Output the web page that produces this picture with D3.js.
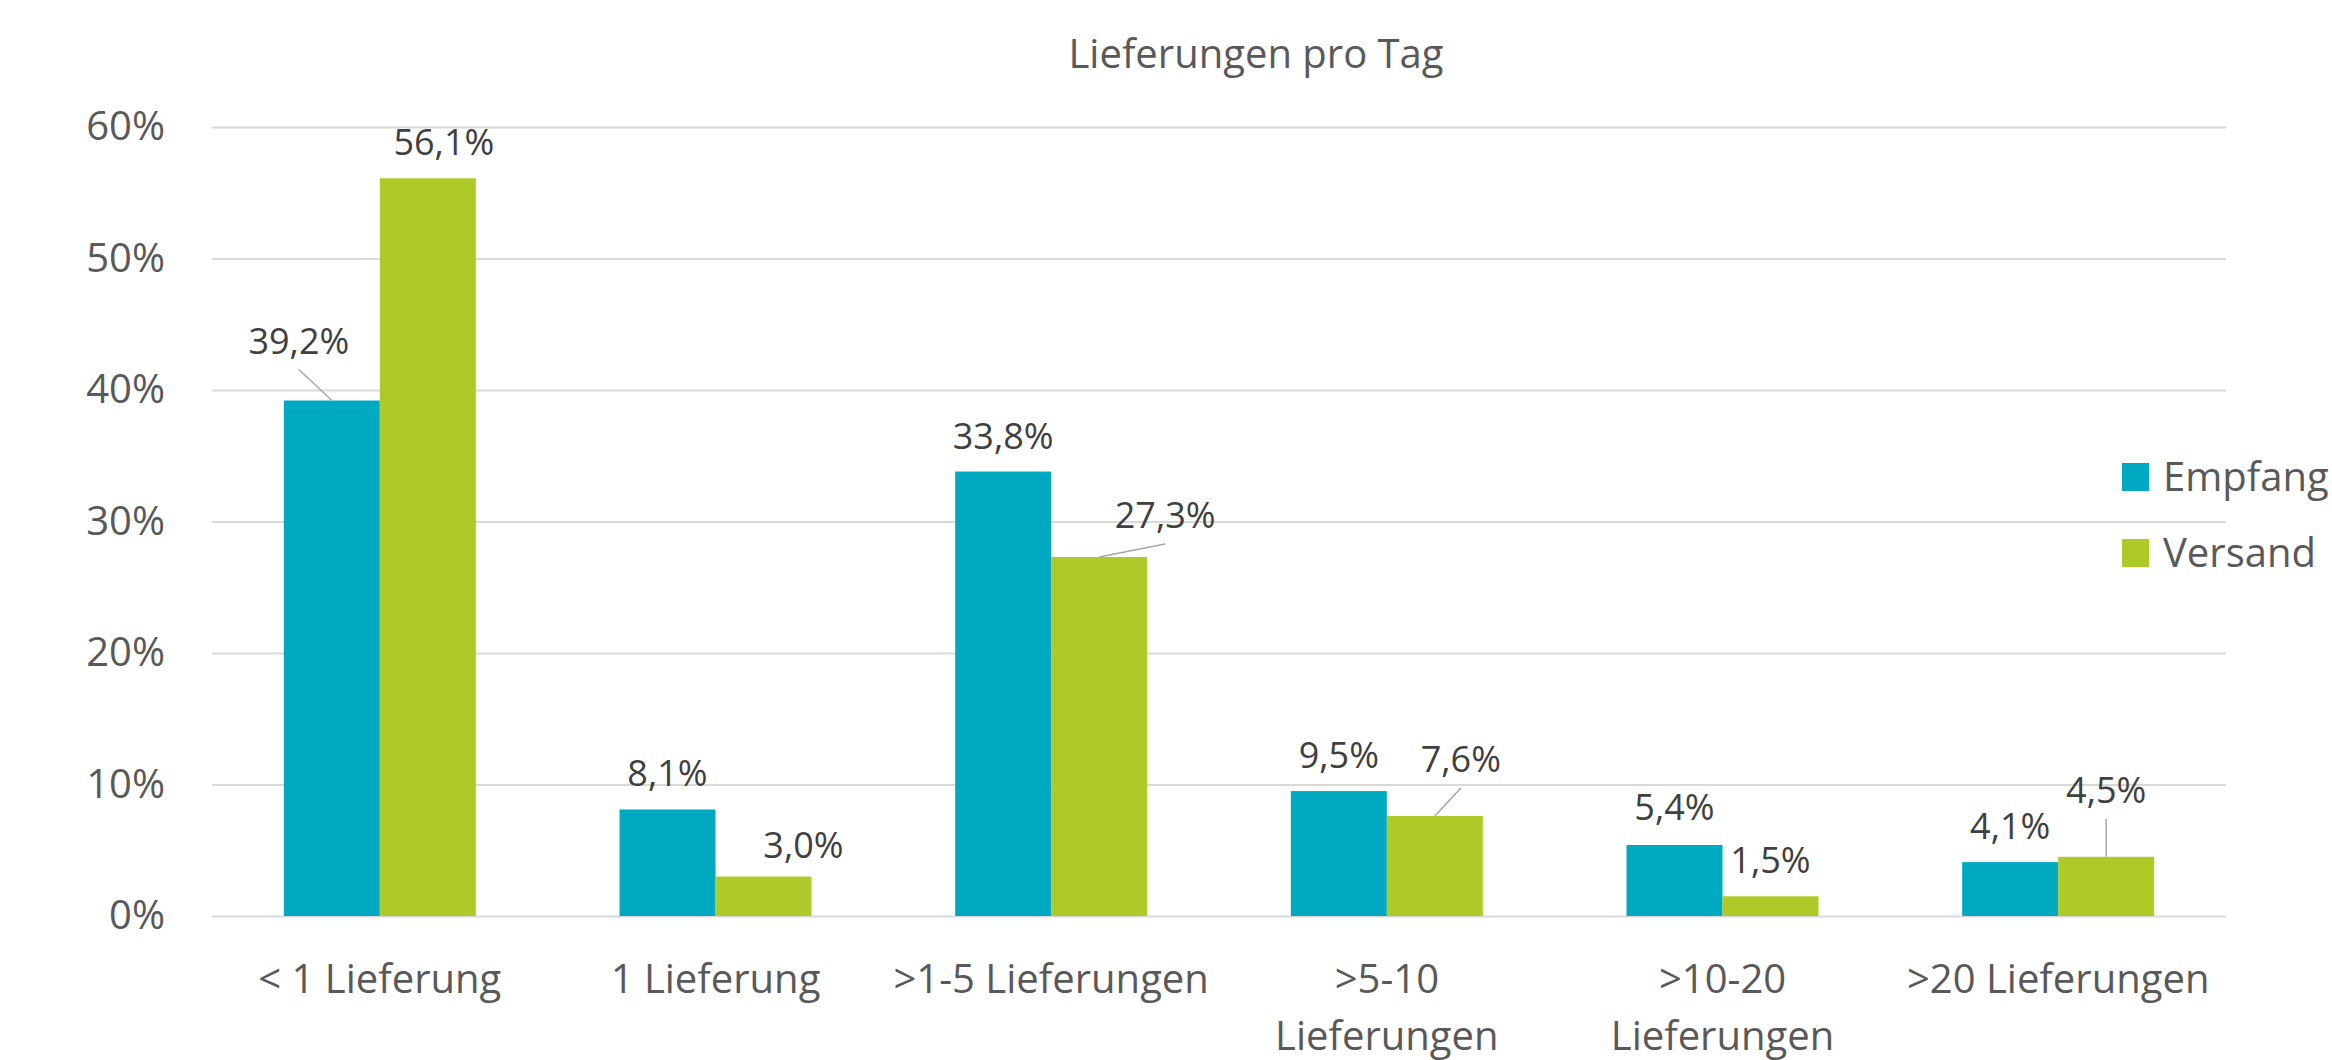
<!DOCTYPE html>
<html>
<head>
<meta charset="utf-8">
<script src="https://cdn.jsdelivr.net/npm/d3@7"></script>
<style>
  body { margin: 0; background: #fff; }
  svg { display: block; font-family: 'Open Sans', sans-serif; }
</style>
</head>
<body>
<div id="chart"></div>
<script>
// chart data
var categories = ['< 1 Lieferung', '1 Lieferung', '>1-5 Lieferungen', '>5-10 Lieferungen', '>10-20 Lieferungen', '>20 Lieferungen']
var categoryLabels = ['< 1 Lieferung', '1 Lieferung', '>1-5 Lieferungen', '>5-10\nLieferungen', '>10-20\nLieferungen', '>20 Lieferungen']
var seriesNames = ['Empfang', 'Versand']
var empfang = [39.2, 8.1, 33.8, 9.5, 5.4, 4.1]
var versand = [56.1, 3.0, 27.3, 7.6, 1.5, 4.5]
var yTicks = [0, 10, 20, 30, 40, 50, 60]
var title = 'Lieferungen pro Tag'

// label nudges (dx, dy, leader line) so the labels sit like in the original
var empfangNudge = [[-33, -24, 1], [0, 0, 0], [0, 0, 0], [0, 0, 0], [0, -2, 0], [0, 0, 0]]
var versandNudge = [[16, 0, 0], [40, 4, 0], [66, -6, 1], [26, -21, 1], [0, 0, 0], [0, -31, 1]]

var colors = { Empfang: '#00a9c2', Versand: '#afca28' }

var layout = { width: 2332, height: 1060, left: 212, right: 2226, top: 127, bottom: 916 }

var fmt = d3.formatLocale({ decimal: ',', thousands: '.', grouping: [3], currency: ['', '€'] }).format('.1f')

var svg = d3.select('#chart')
  .append('svg')
  .attr('width', layout.width)
  .attr('height', layout.height)

var x0 = d3.scaleBand()
  .domain(categories)
  .range([layout.left, layout.right])
  .paddingInner(0.428)
  .paddingOuter(0.214)

var x1 = d3.scaleBand()
  .domain(seriesNames)
  .range([0, x0.bandwidth()])

var y = d3.scaleLinear()
  .domain([0, 60])
  .range([layout.bottom, layout.top])

// gridlines + y labels
var yAxis = d3.axisLeft(y)
  .tickValues(yTicks)
  .tickFormat(function (d) { return d + '%' })
  .tickSize(-(layout.right - layout.left))
  .tickPadding(47)

svg.append('g')
  .attr('transform', 'translate(' + layout.left + ',0)')
  .call(yAxis)
  .call(function (g) { g.select('.domain').remove() })
  .call(function (g) {
    g.selectAll('line').attr('stroke', '#d9d9d9').attr('stroke-width', 2)
    g.selectAll('text')
      .attr('fill', '#595959')
      .attr('font-size', 40)
      .attr('font-family', "'Open Sans', sans-serif")
  })

// category labels
var xAxis = d3.axisBottom(x0).tickSize(0).tickPadding(0)
svg.append('g')
  .attr('transform', 'translate(0,' + layout.bottom + ')')
  .call(xAxis)
  .call(function (g) { g.select('.domain').remove() })
  .call(function (g) {
    g.selectAll('text').each(function (d, i) {
      var t = d3.select(this)
      t.text(null)
        .attr('y', 0)
        .attr('dy', null)
        .attr('fill', '#595959')
        .attr('font-size', 40)
        .attr('font-family', "'Open Sans', sans-serif")
      categoryLabels[i].split('\n').forEach(function (line, k) {
        t.append('tspan')
          .attr('x', 0)
          .attr('y', 77 + k * 57)
          .text(line)
      })
    })
  })

// bars
var rows = categories.map(function (c, i) {
  return {
    category: c,
    values: [
      { name: 'Empfang', value: empfang[i], nudge: empfangNudge[i] },
      { name: 'Versand', value: versand[i], nudge: versandNudge[i] }
    ]
  }
})

var groups = svg.append('g')
  .selectAll('g')
  .data(rows)
  .enter()
  .append('g')
  .attr('transform', function (d) { return 'translate(' + x0(d.category) + ',0)' })

groups.selectAll('rect')
  .data(function (d) { return d.values })
  .enter()
  .append('rect')
  .attr('x', function (d) { return x1(d.name) })
  .attr('y', function (d) { return y(d.value) })
  .attr('width', x1.bandwidth())
  .attr('height', function (d) { return y(0) - y(d.value) })
  .attr('fill', function (d) { return colors[d.name] })

// leader lines
groups.selectAll('line.leader')
  .data(function (d) { return d.values.filter(function (v) { return v.nudge[2] }) })
  .enter()
  .append('line')
  .attr('class', 'leader')
  .attr('x1', function (d) { return x1(d.name) + x1.bandwidth() / 2 + d.nudge[0] })
  .attr('y1', function (d) { return y(d.value) - 23 + d.nudge[1] + 16 })
  .attr('x2', function (d) { return x1(d.name) + x1.bandwidth() / 2 })
  .attr('y2', function (d) { return y(d.value) })
  .attr('stroke', '#a6a6a6')
  .attr('stroke-width', 1.5)

// value labels
groups.selectAll('text.value')
  .data(function (d) { return d.values })
  .enter()
  .append('text')
  .attr('class', 'value')
  .attr('x', function (d) { return x1(d.name) + x1.bandwidth() / 2 + d.nudge[0] })
  .attr('y', function (d) { return y(d.value) - 23 + d.nudge[1] })
  .attr('text-anchor', 'middle')
  .attr('font-size', 36)
  .attr('fill', '#404040')
  .text(function (d) { return fmt(d.value) + '%' })

// title
svg.append('text')
  .attr('x', 1256)
  .attr('y', 68)
  .attr('text-anchor', 'middle')
  .attr('font-size', 40)
  .attr('fill', '#595959')
  .text(title)

// legend
var legend = svg.append('g')
  .selectAll('g')
  .data(seriesNames)
  .enter()
  .append('g')
  .attr('transform', function (d, i) { return 'translate(2122,' + (463 + i * 76) + ')' })

legend.append('rect')
  .attr('width', 27)
  .attr('height', 28)
  .attr('fill', function (d) { return colors[d] })

legend.append('text')
  .attr('x', 41)
  .attr('y', 28)
  .attr('font-size', 40)
  .attr('fill', '#595959')
  .text(function (d) { return d })
</script>
</body>
</html>
